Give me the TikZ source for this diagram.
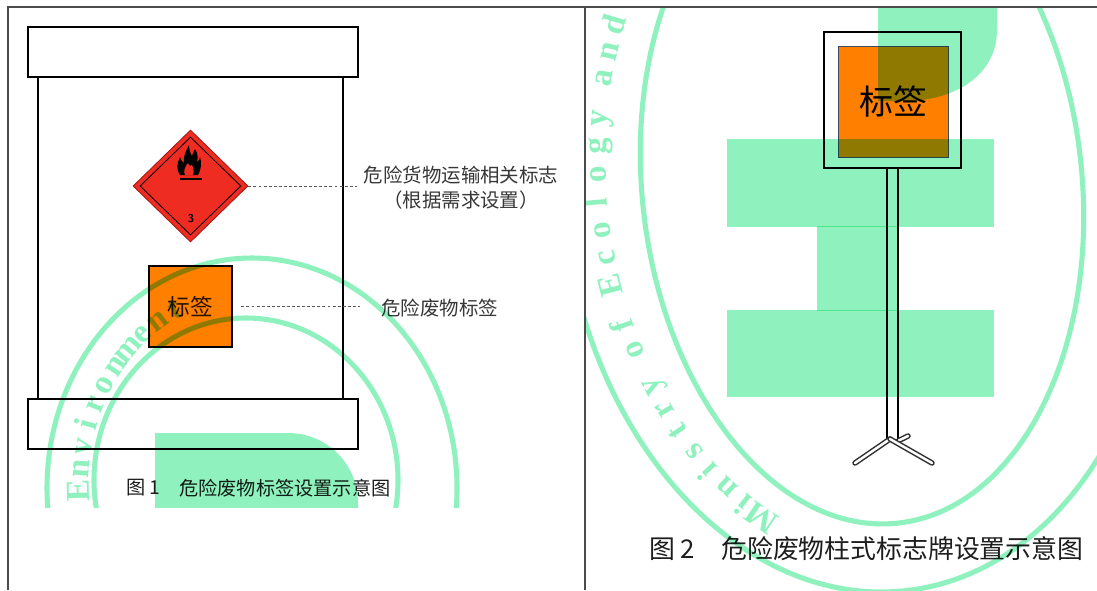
\documentclass[tikz,border=0pt]{standalone}
\usepackage{fontspec}
\setmainfont{Liberation Serif}
\newfontfamily\cjk{Noto Sans CJK SC}
\usetikzlibrary{shapes.geometric,calc}

\definecolor{wmgreen}{RGB}{143,242,190}
\definecolor{tagorange}{RGB}{255,128,0}
\definecolor{hazred}{RGB}{238,44,34}
\definecolor{hazedge}{RGB}{165,20,15}
\definecolor{rulegray}{RGB}{75,75,75}
\definecolor{leadgray}{RGB}{90,90,90}
\definecolor{labeltext}{RGB}{55,55,55}
\definecolor{captext}{RGB}{30,30,30}
\definecolor{signedge}{RGB}{60,72,100}
\definecolor{leggray}{RGB}{45,45,45}

\tikzset{
  tablerule/.style={draw=rulegray, line width=1.1pt},
  outline/.style={draw=black, line width=1.1pt},
  dashlead/.style={draw=leadgray, line width=0.6pt, dash pattern=on 2.2pt off 1.6pt},
  cjklabel/.style={font=\cjk\fontsize{14.6}{18.75}\selectfont, text=labeltext, inner sep=0pt},
  caption/.style={inner sep=0pt, anchor=west, text=captext},
  leg/.style={draw=leggray, line width=1.1pt, double=white, double distance=1.9pt, line cap=round},
  wmring/.style={draw=wmgreen, line width=3.8pt},
  wmletter/.style={text=wmgreen, inner sep=0pt, font=\bfseries\fontsize{25}{25}\selectfont},
}

\begin{document}
\begin{tikzpicture}[x=0.75pt, y=-0.75pt]
\useasboundingbox (0,0) rectangle (1097,590);
\fill[white] (0,0) rectangle (1097,590);

% table rules
\draw[tablerule] (8,590) -- (8,7) -- (1097,7);
\draw[tablerule] (585,7) -- (585,590);

% ---------- left panel: container with labels ----------
\node[outline, rectangle, minimum width=228.75pt, minimum height=241.5pt, inner sep=0] (body) at (190.5,238) {};
\node[outline, rectangle, fill=white, minimum width=247.5pt, minimum height=37.5pt, inner sep=0] (lid) at (193,52) {};
\node[outline, rectangle, fill=white, minimum width=247.5pt, minimum height=37.5pt, inner sep=0] (base) at (193,424) {};

% transport hazard placard, class 3
\node[diamond, fill=hazred, draw=hazedge, line width=0.6pt, minimum width=86.25pt, minimum height=84pt, inner sep=0] (haz) at (190.5,186) {};
\node[diamond, draw=black, line width=0.6pt, minimum width=75.75pt, minimum height=73.5pt, inner sep=0] (hazin) at (haz.center) {};
\begin{scope}[shift={(189,160)}]
  \fill[black] (-9,15) .. controls (-13,10) and (-12,3) .. (-9,-3)
    .. controls (-8,0) and (-7,2) .. (-5,3)
    .. controls (-6,-4) and (-3,-9) .. (0,-15)
    .. controls (0,-9) and (2,-6) .. (3,-4)
    .. controls (4,-7) and (5,-9) .. (6,-11)
    .. controls (9,-6) and (9,-2) .. (8,2)
    .. controls (10,1) and (11,-1) .. (11,-3)
    .. controls (13,3) and (12,10) .. (9,15) -- cycle;
  \fill[hazred] (-4,15) .. controls (-6,11) and (-4,7) .. (-1,3)
    .. controls (0,6) and (2,7) .. (3,5)
    .. controls (5,9) and (5,13) .. (4,15) -- cycle;
  \fill[black] (-9,18) rectangle (13,20);
\end{scope}
\node[font=\sffamily\bfseries\fontsize{8.5}{8.5}\selectfont, inner sep=0] (hazno) at (191,219) {3};

% waste label
\node[outline, rectangle, fill=tagorange, minimum width=62.25pt, minimum height=60.75pt, inner sep=0,
      font=\cjk\fontsize{17}{17}\selectfont, text={rgb,255:red,40;green,20;blue,0}] (tag) at (190.5,306.5) {标签};

% callouts
\node[cjklabel, align=center] (lab1) at (461,187.5) {危险货物运输相关标志\\（根据需求设置）};
\node[cjklabel, anchor=west] (lab2) at (381,308) {危险废物标签};
\draw[dashlead, shorten >=4.9pt] (haz.east) -- (haz.east -| lab1.west);
\draw[dashlead, shorten <=6.5pt, shorten >=15.5pt] (tag.east) -- (tag.east -| lab2.west);

% caption 1
\node[caption, font=\cjk\fontsize{14.4}{14.4}\selectfont] (cap1no) at (126,488) {图 1};
\node[caption, font=\cjk\fontsize{14.4}{14.4}\selectfont] (cap1) at (179,488) {危险废物标签设置示意图};

% ---------- right panel: post-mounted sign ----------
\node[rectangle, draw=black, line width=0.9pt, fill=white, minimum width=102.75pt, minimum height=102pt, inner sep=0] (signframe) at (892.5,100) {};
\node[rectangle, draw=signedge, line width=0.6pt, fill=tagorange, minimum width=82.5pt, minimum height=83.25pt, inner sep=0,
      font=\cjk\fontsize{25.5}{25.5}\selectfont] (signtag) at (893,101.5) {\raisebox{-2.6pt}{标签}};
\node[rectangle, draw=black, line width=0.9pt, minimum width=8.25pt, minimum height=204pt, inner sep=0] (post) at (892.5,304) {};

\coordinate (foot) at (890,439);
\coordinate (lfoot) at (855,463);
\coordinate (rfoot) at (932,463);
\coordinate (bfoot) at (908,436);
\draw[leg] (post.south east) -- (bfoot);
\draw[leg] (foot) -- (lfoot);
\draw[leg] (foot) -- (rfoot);

% caption 2
\node[caption, font=\cjk\fontsize{19.4}{19.4}\selectfont] (cap2no) at (649,549) {图 2};
\node[caption, font=\cjk\fontsize{19.4}{19.4}\selectfont] (cap2) at (721,549) {危险废物柱式标志牌设置示意图};

% ---------- green seal watermark, multiplied over the drawing ----------
\begin{scope}[blend mode=multiply]
  \begin{scope}
    \clip (9,8) rectangle (584,507);
    \draw[wmring] (252,488) ellipse [x radius=205, y radius=230];
    \draw[wmring] (246,480) ellipse [x radius=152, y radius=162];
    \fill[wmgreen] (155,433) -- (288,433) .. controls (327,433) and (358,464) .. (358,503)
      -- (358,520) -- (155,520) -- cycle;
    % seal lettering at equal angles along an ellipse
    \foreach \glyph [count=\k from 0] in {E,n,v,i,r,o,n,m,e,n,t}{
      \pgfmathsetmacro\ang{178+6.6*\k}
      \path let \p1=({249+160*cos(\ang)},{484+185*sin(\ang)}),
                \p2=({249+160*cos(\ang+0.5)},{484+185*sin(\ang+0.5)}),
                \n1={atan2(\y2-\y1,\x2-\x1)}
            in node[wmletter, rotate=\n1, anchor=base] at (\p1) {\glyph};
    }
  \end{scope}
  \begin{scope}
    \clip (586,8) rectangle (1097,590);
    \fill[wmgreen] (727,139) rectangle (994,227);
    \fill[wmgreen] (727,310) rectangle (994,397);
    \fill[wmgreen] (817,226) rectangle (898,311);
    \fill[wmgreen] (878,0) -- (997,0) -- (997,30) .. controls (997,75) and (955,101) .. (905,101)
      -- (878,101) -- cycle;
    % tilted seal rings
    \draw[wmring, rotate around={6:(862,185)}] (862,185) ellipse [x radius=220, y radius=340];
    \draw[wmring, rotate around={6:(862,185)}] (862,185) ellipse [x radius=300, y radius=408];
    % seal lettering at equal angles along the tilted ellipse between the rings
    \foreach \glyph/\slot in {M/0,i/1,n/2,i/3,s/4,t/5,r/6,y/7,o/8.5,f/9.5,E/11,c/12,o/13,l/14,o/15,g/16,y/17,a/18.5,n/19.5,d/20.5}{
      \pgfmathsetmacro\ang{120+4.4*\slot}
      \path let \p1=({862+255*cos(\ang)*0.9945+360*sin(\ang)*0.1045},{185-255*cos(\ang)*0.1045+360*sin(\ang)*0.9945}),
                \p2=({862+255*cos(\ang+0.5)*0.9945+360*sin(\ang+0.5)*0.1045},{185-255*cos(\ang+0.5)*0.1045+360*sin(\ang+0.5)*0.9945}),
                \n1={atan2(\y2-\y1,\x2-\x1)}
            in node[wmletter, rotate=\n1, anchor=base] at (\p1) {\glyph};
    }
  \end{scope}
\end{scope}
\end{tikzpicture}
\end{document}
